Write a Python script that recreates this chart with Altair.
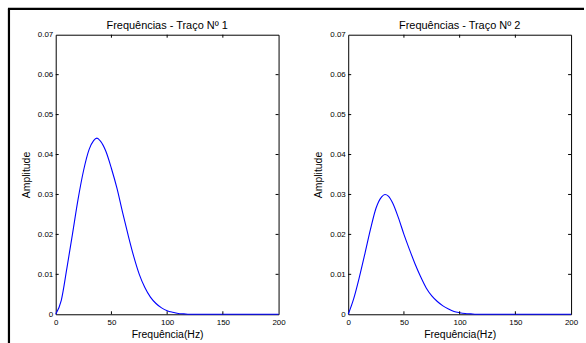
import altair as alt
import pandas as pd

# ---- data ----
freq1 = [0, 5, 10, 15, 20, 25, 30, 34, 37, 40, 45, 50, 55, 60, 65, 70, 75, 80,
         85, 90, 95, 100, 105, 110, 115, 120, 200]
amp_trace1 = [0.0, 0.0035, 0.0115, 0.0200, 0.0287, 0.0360, 0.0413, 0.0435,
              0.0441, 0.0434, 0.0408, 0.0365, 0.0315, 0.0255, 0.0198, 0.0145,
              0.0100, 0.0067, 0.0043, 0.0027, 0.0016, 0.0009, 0.0005, 0.0002,
              0.0001, 0.0, 0.0]
freq2 = [0, 5, 10, 15, 20, 25, 30, 33, 36, 40, 45, 50, 55, 60, 65, 70, 75, 80,
         85, 90, 95, 100, 105, 110, 115, 120, 200]
amp_trace2 = [0.0, 0.0040, 0.0093, 0.0152, 0.0213, 0.0266, 0.0294, 0.0300,
              0.0296, 0.0278, 0.0242, 0.0200, 0.0162, 0.0126, 0.0094, 0.0066,
              0.0046, 0.0032, 0.0021, 0.0013, 0.0007, 0.0004, 0.0002, 0.0001,
              0.0, 0.0, 0.0]
titles = ["Frequências - Traço Nº 1", "Frequências - Traço Nº 2"]
x_ticks = [0, 50, 100, 150, 200]
y_ticks = [0, 0.01, 0.02, 0.03, 0.04, 0.05, 0.06, 0.07]
x_inner_ticks = [50, 100, 150]
y_inner_ticks = [0.01, 0.02, 0.03, 0.04, 0.05, 0.06]
x_title = "Frequência(Hz)"
y_title = "Amplitude"

W, H = 224, 281
FONT = "Liberation Sans"
TICK = 3


def panel(freq, amp, title, with_frame):
    df = pd.DataFrame({"f": freq, "a": amp})
    xs = alt.Scale(domain=[0, 200], nice=False, zero=False)
    ys = alt.Scale(domain=[0, 0.07], nice=False, zero=False)

    line = alt.Chart(df).mark_line(color="#0000ff", strokeWidth=1.1, interpolate="monotone").encode(
        x=alt.X("f:Q", scale=xs,
                axis=alt.Axis(values=x_ticks, title=x_title, domain=False,
                              ticks=False, grid=False, labelFontSize=8,
                              labelPadding=4, titleFontSize=10.5,
                              titleFontWeight="normal", titlePadding=3,
                              labelColor="#000000", titleColor="#000000",
                              labelFlush=False, labelFont=FONT, titleFont=FONT)),
        y=alt.Y("a:Q", scale=ys,
                axis=alt.Axis(values=y_ticks, title=y_title, domain=False,
                              ticks=False, grid=False, labelFontSize=8,
                              labelPadding=3, titleFontSize=10.5,
                              titleFontWeight="normal", titlePadding=6,
                              labelColor="#000000", titleColor="#000000",
                              labelFlush=False, labelFont=FONT, titleFont=FONT,
                              labelExpr="datum.value == 0 ? '0' : format(datum.value, '.2f')")),
    )

    xt = pd.DataFrame({"f": x_inner_ticks})
    yt = pd.DataFrame({"a": y_inner_ticks})
    tick_b = alt.Chart(xt).mark_rule(color="black", strokeWidth=1).encode(
        x=alt.X("f:Q", scale=xs), y=alt.value(H), y2=alt.value(H - TICK))
    tick_t = alt.Chart(xt).mark_rule(color="black", strokeWidth=1).encode(
        x=alt.X("f:Q", scale=xs), y=alt.value(0), y2=alt.value(TICK))
    tick_l = alt.Chart(yt).mark_rule(color="black", strokeWidth=1).encode(
        y=alt.Y("a:Q", scale=ys), x=alt.value(0), x2=alt.value(TICK))
    tick_r = alt.Chart(yt).mark_rule(color="black", strokeWidth=1).encode(
        y=alt.Y("a:Q", scale=ys), x=alt.value(W), x2=alt.value(W - TICK))

    ttl = alt.Chart(pd.DataFrame({"t": [title]})).mark_text(
        fontSize=11, font=FONT, align="center", baseline="alphabetic", color="black"
    ).encode(x=alt.value(W / 2), y=alt.value(-6), text="t:N")

    layers = [line, tick_b, tick_t, tick_l, tick_r, ttl]
    if with_frame:
        one = pd.DataFrame({"z": [0]})
        frame_top = alt.Chart(one).mark_rule(color="black", strokeWidth=2.2).encode(
            x=alt.value(-48), x2=alt.value(531), y=alt.value(-26))
        frame_left = alt.Chart(one).mark_rule(color="black", strokeWidth=2.2).encode(
            x=alt.value(-47), y=alt.value(-26), y2=alt.value(310))
        layers += [frame_top, frame_left]

    return alt.layer(*layers).properties(width=W, height=H)


left = panel(freq1, amp_trace1, titles[0], True)
right = panel(freq2, amp_trace2, titles[1], False)

chart = alt.hconcat(left, right, spacing=70, bounds="flush").properties(
    padding={"left": 6, "top": 6, "right": 0, "bottom": 0},
    background="white",
).configure(font=FONT).configure_view(stroke="black", strokeWidth=1)

chart.save("out.html", embed_options={"renderer": "svg", "actions": False})
